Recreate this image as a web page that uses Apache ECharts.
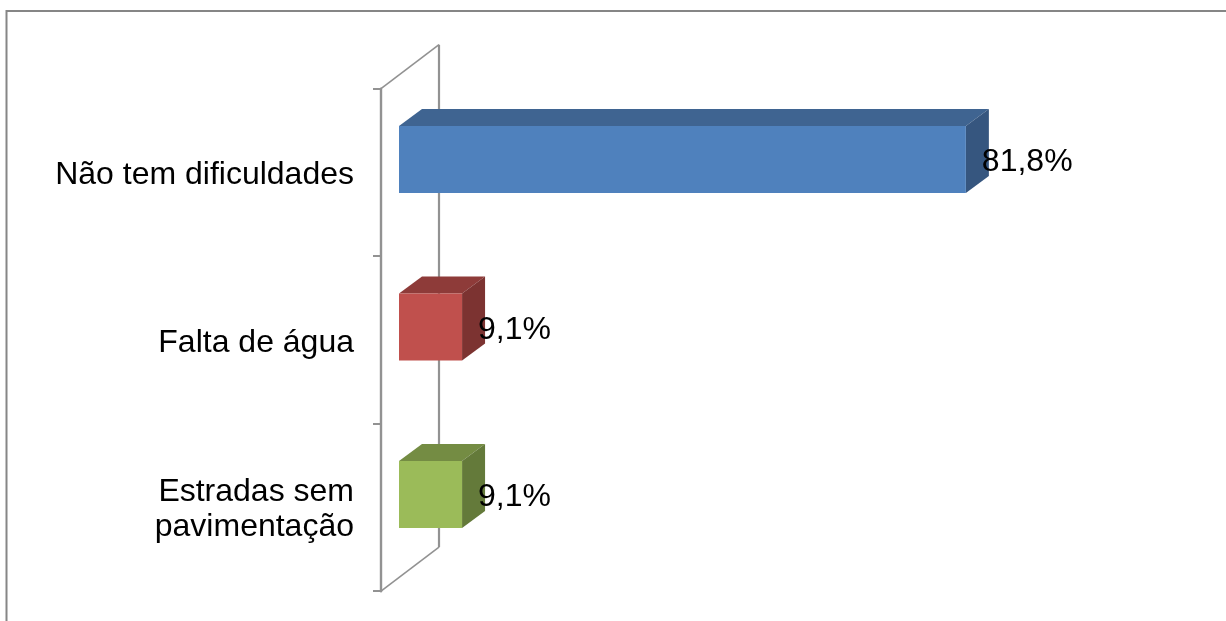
<!DOCTYPE html>
<html><head><meta charset="utf-8">
<style>html,body{margin:0;padding:0;background:#fff}#c{width:1226px;height:621px}</style>
<script src="https://cdn.jsdelivr.net/npm/echarts@6/dist/echarts.min.js"></script>
</head><body><div id="c"></div>
<script>
const categories = ['Não tem dificuldades', 'Falta de água', 'Estradas sem\npavimentação'];
const values = [81.8, 9.1, 9.1];
const valueLabels = ['81,8%', '9,1%', '9,1%'];
const frontColors = ['#4f81bd', '#c0504d', '#9bbb59'];
const topColors = ['#3f6491', '#8e3b39', '#748c43'];
const sideColors = ['#36567f', '#7c3331', '#647a3a'];

const font = '"Liberation Sans", Arial, sans-serif';
const fontSize = 32;
const wallDX = 58, wallDY = -44;      // depth of the chart floor
const barOffX = 18, barOffY = -13;    // bars sit inside the depth
const barDX = 23, barDY = -17;        // depth of a bar
const axisGray = '#929292';

function renderWall(params, api) {
  const h = api.size([0, 1])[1];
  const first = api.coord([0, 0]), last = api.coord([0, categories.length - 1]);
  const x = first[0], top = first[1] - h / 2, bottom = last[1] + h / 2;
  const bx = x + wallDX;
  return {
    type: 'group',
    children: [
      { type: 'line', shape: { x1: x, y1: top, x2: bx, y2: top + wallDY }, style: { stroke: axisGray, lineWidth: 1.6 } },
      { type: 'line', shape: { x1: x, y1: bottom, x2: bx, y2: bottom + wallDY }, style: { stroke: axisGray, lineWidth: 1.6 } },
      { type: 'line', shape: { x1: bx, y1: top + wallDY, x2: bx, y2: bottom + wallDY }, style: { stroke: axisGray, lineWidth: 2.2 } }
    ]
  };
}

function renderBar(params, api) {
  const i = params.dataIndex;
  const zero = api.coord([0, i]), end = api.coord([api.value(0), i]);
  const h = api.size([0, 1])[1] * 0.4;
  const x0 = zero[0] + barOffX, x1 = end[0] + barOffX;
  const y0 = zero[1] + barOffY - h / 2, y1 = y0 + h;
  return {
    type: 'group',
    children: [
      { type: 'polygon', shape: { points: [[x0, y0], [x0 + barDX, y0 + barDY], [x1 + barDX, y0 + barDY], [x1, y0]] },
        style: { fill: topColors[i] } },
      { type: 'polygon', shape: { points: [[x1, y0], [x1 + barDX, y0 + barDY], [x1 + barDX, y1 + barDY], [x1, y1]] },
        style: { fill: sideColors[i] } },
      { type: 'rect', shape: { x: x0, y: y0, width: x1 - x0, height: h },
        style: { fill: frontColors[i] } },
      { type: 'text', x: x1 + 16, y: (y0 + y1) / 2 + 3,
        style: { text: valueLabels[i], font: fontSize + 'px ' + font, fill: '#000', align: 'left', verticalAlign: 'middle' } }
    ]
  };
}

// the first line of each label carries extra top padding, which lowers the whole block
function formatCategory(name) {
  return name.split('\n').map((line, i) => (i === 0 ? '{first|' : '{rest|') + line + '}').join('\n');
}
const labelText = { color: '#000', fontFamily: font, fontSize: fontSize, lineHeight: 36 };

const chart = echarts.init(document.getElementById('c'), null, { renderer: 'canvas' });
chart.setOption({
  animation: false,
  backgroundColor: '#fff',
  graphic: [{ type: 'rect', left: 4, top: 8.5, silent: true, z: -1,
    shape: { width: 1400, height: 800 }, style: { fill: null, stroke: '#868686', lineWidth: 2 } }],
  grid: { left: 381, top: 88.7, width: 693, height: 502.5 },
  xAxis: { type: 'value', min: 0, max: 100, show: false },
  yAxis: {
    type: 'category', inverse: true, data: categories,
    axisLine: { show: true, lineStyle: { color: axisGray, width: 2.4 } },
    axisTick: { show: true, length: 8, lineStyle: { color: axisGray, width: 2 } },
    axisLabel: { margin: 27, align: 'right', formatter: formatCategory,
      rich: { first: Object.assign({ padding: [6, 0, 0, 0] }, labelText),
              rest: Object.assign({ padding: [3, 0, 0, 0] }, labelText) } }
  },
  series: [
    { type: 'custom', coordinateSystem: 'cartesian2d', clip: false, silent: true, z: 1,
      renderItem: renderWall, data: [[0, 0]], encode: { x: 0, y: 1 } },
    { type: 'custom', coordinateSystem: 'cartesian2d', clip: false, silent: true, z: 2,
      renderItem: renderBar, data: values.map((v, i) => [v, i]), encode: { x: 0, y: 1 } }
  ]
});
</script></body></html>
